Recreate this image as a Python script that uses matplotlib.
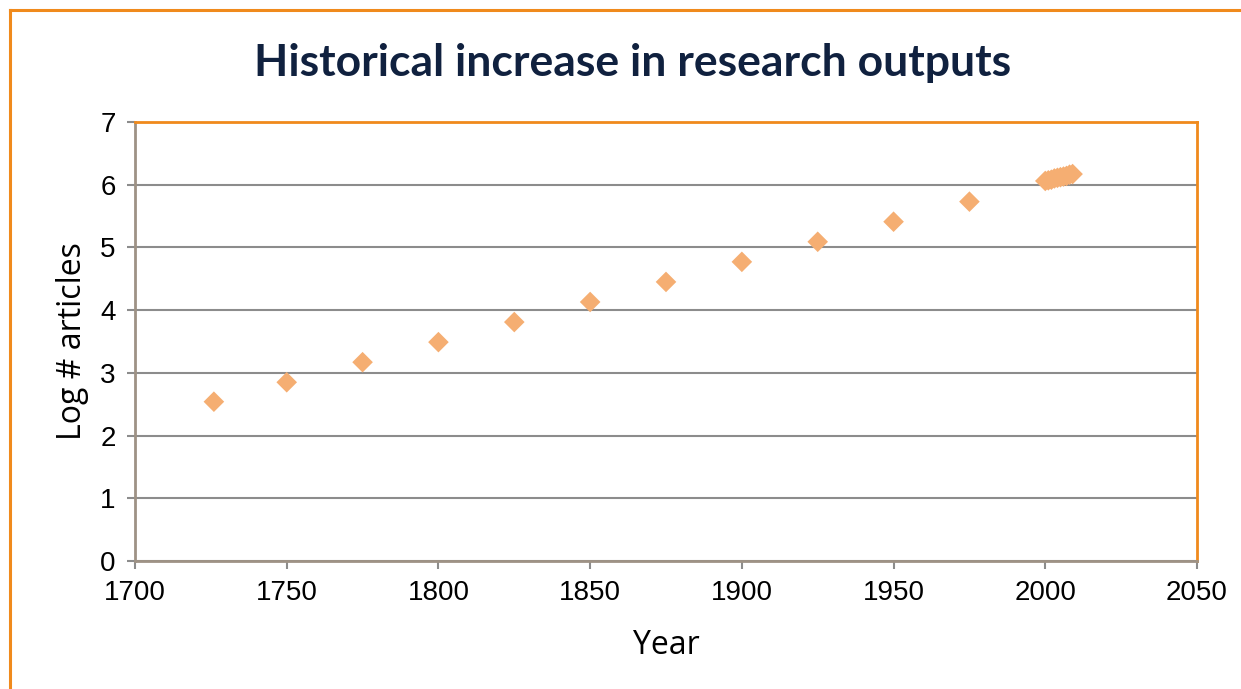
import matplotlib.pyplot as plt
from matplotlib.lines import Line2D

# data
years = [1726, 1750, 1775, 1800, 1825, 1850, 1875, 1900, 1925, 1950, 1975,
         2000, 2001, 2002, 2003, 2004, 2005, 2006, 2007, 2008, 2009]
log_articles = [2.54, 2.85, 3.17, 3.49, 3.81, 4.13, 4.45, 4.77, 5.09, 5.41, 5.73,
                6.06, 6.07, 6.08, 6.10, 6.11, 6.12, 6.13, 6.14, 6.16, 6.17]
x_ticks = [1700, 1750, 1800, 1850, 1900, 1950, 2000, 2050]
y_ticks = [0, 1, 2, 3, 4, 5, 6, 7]

fig = plt.figure(figsize=(12.41, 6.89), dpi=100)
ax = fig.add_axes([135/1241, 1 - 561/689, (1197-135)/1241, (561-122)/689])

ax.scatter(years, log_articles, marker='D', s=110, color='#F5AE72',
           edgecolors='none', zorder=3)

ax.set_xlim(1700, 2050)
ax.set_ylim(0, 7)
ax.set_xticks(x_ticks)
ax.set_yticks(y_ticks)
ax.grid(axis='y', color='#8C8C8C', linewidth=1.5)
ax.set_axisbelow(True)

for s in ['top', 'right']:
    ax.spines[s].set_color('#F08A1C')
    ax.spines[s].set_linewidth(2)
for s in ['left', 'bottom']:
    ax.spines[s].set_color('#9E9285')
    ax.spines[s].set_linewidth(2)

ax.tick_params(direction='out', length=6, width=1.5, color='#8C8C8C',
               labelsize=20, labelcolor='black', pad=8)
for lab in ax.get_xticklabels() + ax.get_yticklabels():
    lab.set_family('Liberation Sans')

ax.set_xlabel('Year', fontsize=23, family='Open Sans', labelpad=16)
ax.set_ylabel('Log # articles', fontsize=23, family='Open Sans', labelpad=8)

fig.text(633/1241, 1 - 63/689, 'Historical increase in research outputs',
         ha='center', va='center', fontsize=32, fontweight='bold',
         family='Lato', color='#10213F')

# orange frame (only top and left visible)
fig.add_artist(Line2D([9.5/1241, 1], [1 - 9.5/689, 1 - 9.5/689],
                      transform=fig.transFigure, color='#F08A1C', linewidth=2.2))
fig.add_artist(Line2D([9.5/1241, 9.5/1241], [0, 1 - 9.5/689],
                      transform=fig.transFigure, color='#F08A1C', linewidth=2.2))

fig.savefig('out.png', dpi=100)
